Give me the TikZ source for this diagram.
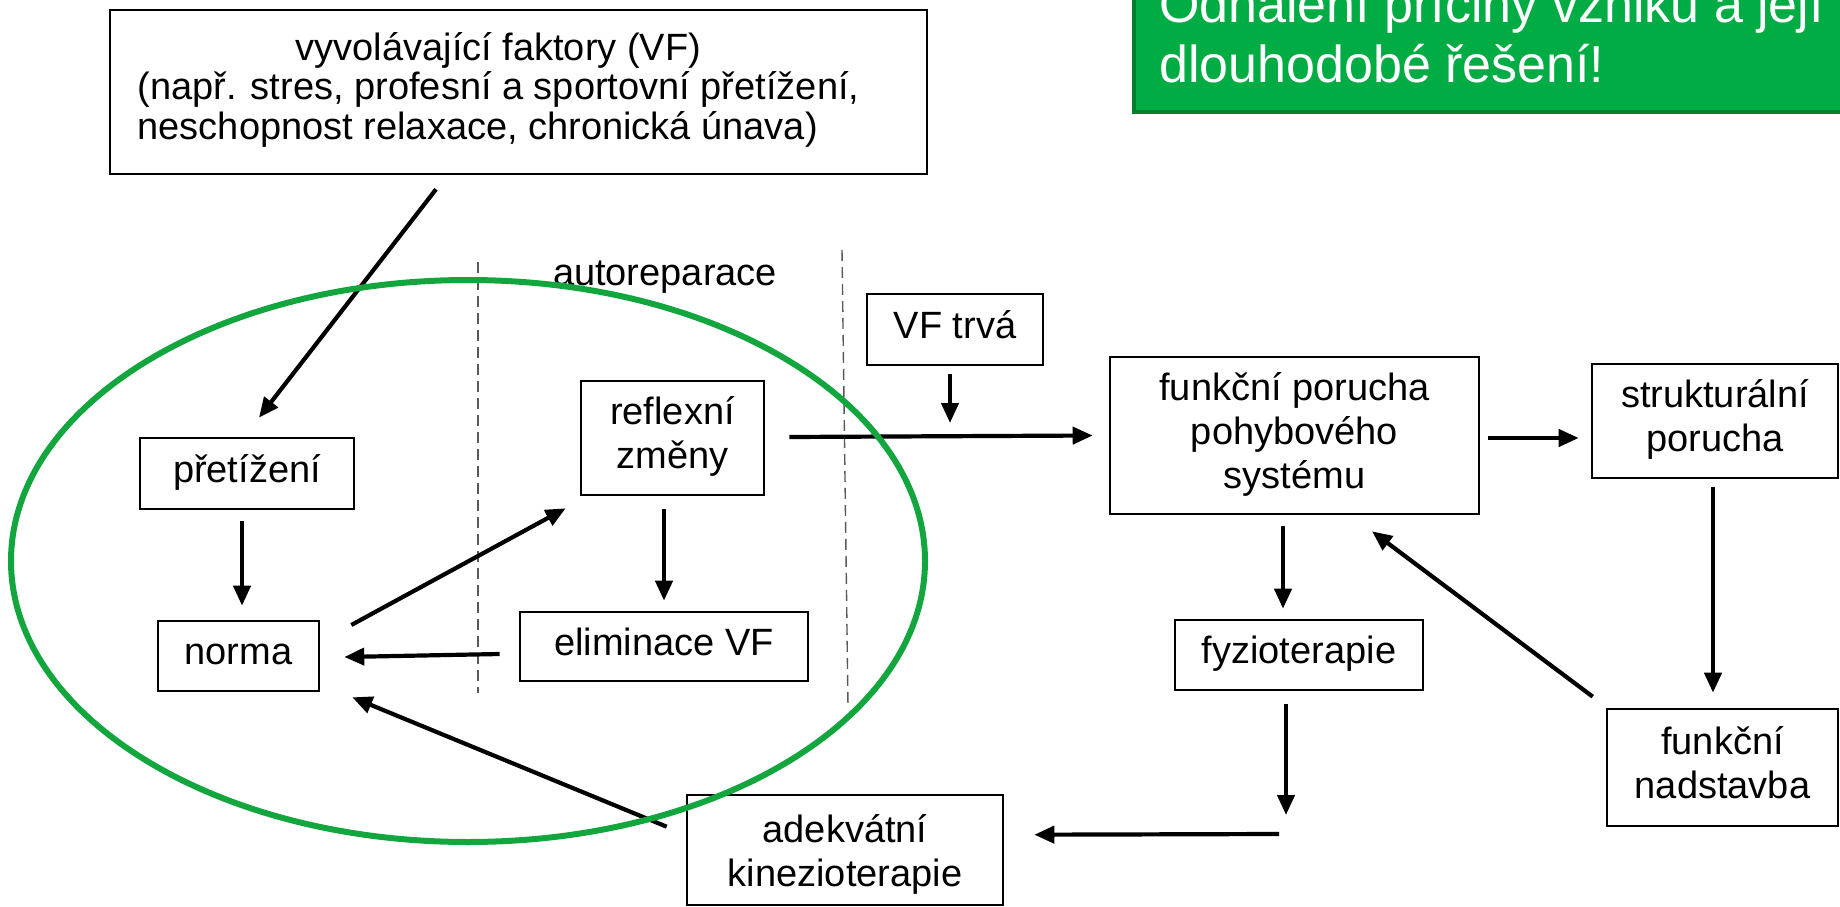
\documentclass[tikz,border=0pt]{standalone}
\usepackage{fontspec}
\setmainfont{Liberation Sans}
\usetikzlibrary{arrows.meta,calc}
\definecolor{slidegreen}{RGB}{0,172,67}
\definecolor{slidegreenedge}{RGB}{0,128,45}
\definecolor{ringgreen}{RGB}{20,166,62}
\newcommand\boxtext[1]{\begin{tabular}{@{}c@{}}#1\end{tabular}}
\begin{document}
\begin{tikzpicture}[x=1pt,y=-1pt,
  diag/.style={font=\fontsize{38}{44}\selectfont},
  box/.style={draw=black, line width=2.6pt, inner sep=0pt, diag},
  arr/.style={line width=4.2pt, -{Triangle[length=20pt,width=17pt]}},
  sep/.style={black!65, line width=1.4pt, dash pattern=on 11pt off 6pt}]
\useasboundingbox (0,0) rectangle (1840,907);
\fill[white] (0,0) rectangle (1840,907);
\begin{scope}
\clip (0,0) rectangle (1840,907);

% green note in the upper right corner
\draw[fill=slidegreen, draw=slidegreenedge, line width=4pt] (1134,-30) rectangle (1880,112);
\node[anchor=base west, text=white, font=\fontsize{52}{61}\selectfont, inner sep=0pt] (note) at (1159,83)
  {\begin{tabular}[b]{@{}l@{}}Odhalení příčiny vzniku a její\\dlouhodobé řešení!\end{tabular}};

% dashed separators of the self-repair zone
\draw[sep] (478,262) -- (478,693);
\draw[sep] (842,250) -- (848,706);
\node[diag, inner sep=0pt, anchor=base] (auto) at (665,285) {autoreparace};

% boxes
\node[box, font=\fontsize{38}{40}\selectfont, minimum width=817pt, minimum height=164pt] (vf) at (518.5,92)
  {\begin{tabular}{@{}l@{\hspace{40pt}}}\multicolumn{1}{@{}c@{\hspace{40pt}}}{vyvolávající faktory (VF)}\\(např. stres, profesní a sportovní přetížení,\\neschopnost relaxace, chronická únava)\end{tabular}};
\node[box, minimum width=214pt, minimum height=71pt] (pret) at (247,473.5) {\boxtext{přetížení}};
\node[box, minimum width=161pt, minimum height=70pt] (norma) at (238.5,656) {\boxtext{norma}};
\node[box, minimum width=183pt, minimum height=114pt] (refl) at (672.5,438) {\boxtext{reflexní\\změny}};
\node[box, minimum width=288pt, minimum height=69pt] (elim) at (664,646.5) {\boxtext{eliminace VF}};
\node[box, minimum width=176pt, minimum height=71pt] (vftrva) at (955,329.5) {\boxtext{VF trvá}};
\node[box, minimum width=369pt, minimum height=157pt] (funk) at (1294.5,435.5) {\boxtext{funkční porucha\\pohybového\\systému}};
\node[box, minimum width=246pt, minimum height=114pt] (strukt) at (1715,421) {\boxtext{strukturální\\porucha}};
\node[box, minimum width=231pt, minimum height=117pt] (nadst) at (1722.5,767.5) {\boxtext{funkční\\nadstavba}};
\node[box, minimum width=248pt, minimum height=70pt] (fyzio) at (1299,655) {\boxtext{fyzioterapie}};
\node[box, minimum width=316pt, minimum height=110pt] (adek) at (845,850)
  {\raisebox{-6pt}[\height][\depth]{\boxtext{adekvátní\\kinezioterapie}}};

% free ends of the two open arrows
\coordinate (vfhit) at (950,423);
\coordinate (fyend) at (1286,815);
\coordinate (kinstart) at (1279,834);

% connectors
\draw[arr] ($(vf.south)+(-82.5,14)$) -- ($(pret.north)+(12,-19)$);
\draw[arr] ($(pret.south)+(-5,11)$) -- ($(norma.north)+(3.5,-14)$);
\draw[arr] ($(norma.east)+(31,-31)$) -- ($(refl.south west)+(-14,12)$);
\draw[arr] ($(refl.south)+(-8.5,13)$) -- ($(elim.north)+(0,-10)$);
\draw[arr] ($(elim.west)+(-19,7.5)$) -- ($(norma.east)+(24,1)$);
\draw[arr] ($(adek.north west)+(-19,33)$) -- ($(norma.south east)+(32,5)$);
\draw[arr] ($(refl.east)+(24,-1)$) -- ($(funk.west)+(-16,0)$);
\draw[arr] ($(vftrva.south)+(-5,8)$) -- (vfhit);
\draw[arr] ($(funk.east)+(8,2.5)$) -- ($(strukt.west)+(-12,17)$);
\draw[arr] ($(strukt.south)+(-2,8)$) -- ($(nadst.north)+(-9.5,-15)$);
\draw[arr] ($(nadst.north west)+(-13,-11)$) -- ($(funk.south)+(77.5,16)$);
\draw[arr] ($(funk.south)+(-11.5,11)$) -- ($(fyzio.north)+(-16,-10)$);
\draw[arr] ($(fyzio.south)+(-13,13)$) -- (fyend);
\draw[arr] (kinstart) -- ($(adek.north east)+(30,41)$);

% green ring round the self-repair loop
\draw[ringgreen, line width=6pt] (468,561) ellipse [x radius=457pt, y radius=281pt];
\end{scope}
\end{tikzpicture}
\end{document}
